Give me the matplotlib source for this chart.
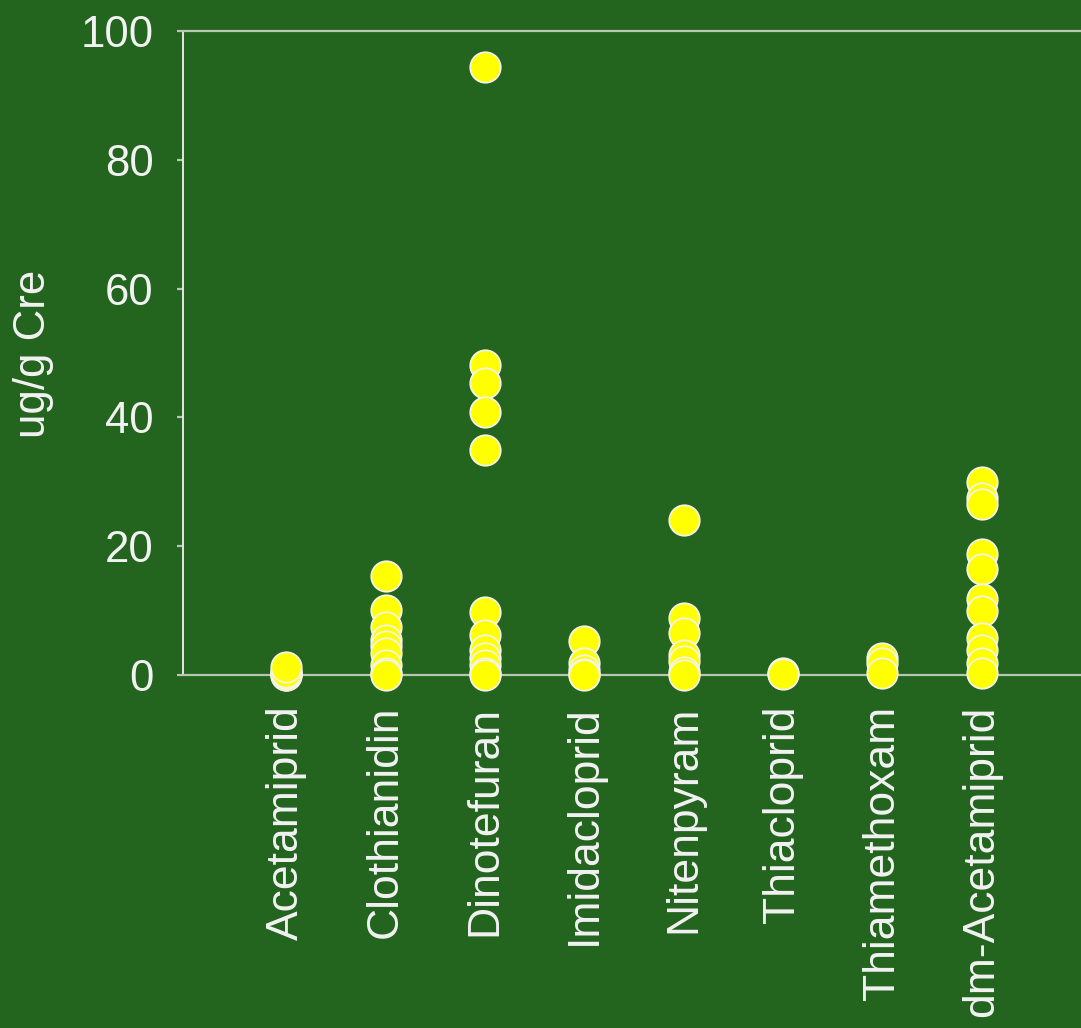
from matplotlib import pyplot as plt
import numpy as np

plt.rcParams['font.family'] = ['Liberation Sans', 'DejaVu Sans']

categories = ['Acetamiprid', 'Clothianidin', 'Dinotefuran', 'Imidacloprid',
              'Nitenpyram', 'Thiacloprid', 'Thiamethoxam', 'dm-Acetamiprid']

acetamiprid = [0, 0, 0.3, 0.5, 1.2]
clothianidin = [15.3, 10.1, 7.5, 5.4, 4.5, 3.4, 1.5, 0.3, 0]
dinotefuran = [94.4, 48.1, 45.4, 40.9, 35.0, 9.8, 6.2, 3.9, 2.7, 1.5, 0.3, 0]
imidacloprid = [5.3, 1.8, 0.8, 0.2, 0]
nitenpyram = [24.1, 8.9, 6.5, 3.1, 2.2, 0.5, 0]
thiacloprid = [0.3, 0.1]
thiamethoxam = [2.6, 1.8, 0.3]
dm_acetamiprid = [30.0, 27.5, 26.5, 18.8, 16.5, 11.8, 10.0, 5.8, 3.9, 1.8, 0.3]

series = [acetamiprid, clothianidin, dinotefuran, imidacloprid,
          nitenpyram, thiacloprid, thiamethoxam, dm_acetamiprid]

bg = '#23641f'
txt = '#f2f2f2'
line_grey = '#b9c6b4'

fig = plt.figure(figsize=(10.81, 10.28), dpi=100, facecolor=bg)
ax = fig.add_axes([183/1081, 1-675/1028, 1-183/1081, (675-31)/1028])
ax.set_facecolor(bg)

for i, vals in enumerate(series):
    ax.scatter(np.full(len(vals), i), vals, s=480, color='#ffff00',
               edgecolor='#f4f4e8', linewidth=1.3, zorder=3, clip_on=False)

ax.set_xlim(-1.04, 8.0)
ax.set_ylim(0, 100)
ax.set_yticks(np.arange(0, 101, 20))
ax.set_xticks(range(len(categories)))
ax.set_xticklabels(categories, rotation=90)

for s in ['top', 'bottom']:
    ax.spines[s].set_color(line_grey)
    ax.spines[s].set_linewidth(1.6)
ax.spines['right'].set_visible(False)
ax.spines['left'].set_color('#e6e6e6')
ax.spines['left'].set_linewidth(1.4)

ax.tick_params(axis='y', colors=line_grey, labelcolor=txt, labelsize=31.5,
               length=4, width=1.6, pad=17)
ax.tick_params(axis='x', length=0, labelcolor=txt, labelsize=32, pad=22)

fig.text(34/1081, 1-354/1028, 'ug/g Cre', color=txt, fontsize=31.5,
         rotation=90, ha='center', va='center')

plt.savefig('out.png', dpi=100, facecolor=bg)
